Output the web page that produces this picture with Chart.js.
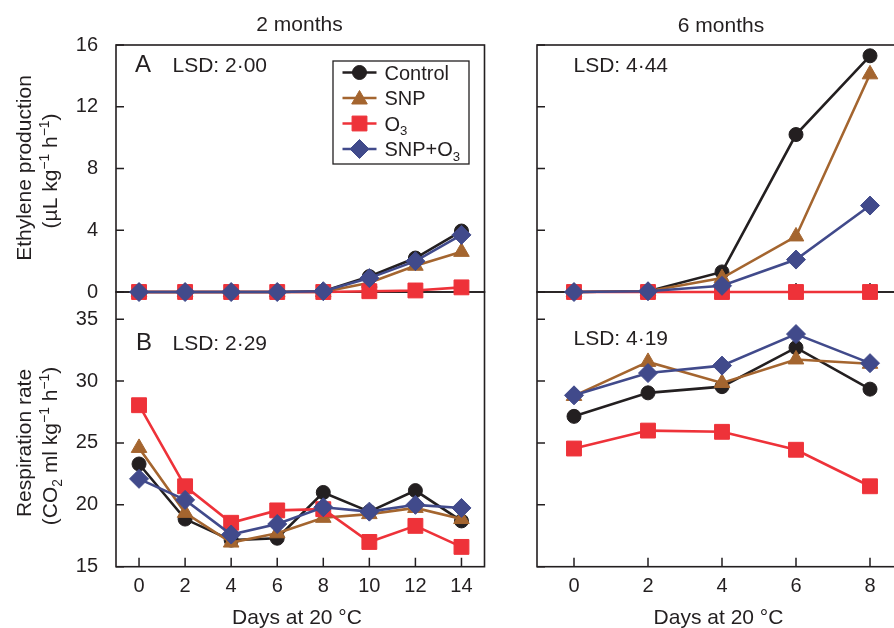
<!DOCTYPE html>
<html>
<head>
<meta charset="utf-8">
<script src="https://cdn.jsdelivr.net/npm/chart.js@4/dist/chart.umd.min.js"></script>
<style>
  html, body { margin: 0; padding: 0; background: #fff; width: 894px; height: 628px; overflow: hidden; }
  canvas { position: absolute; left: 0; top: 0; }
</style>
</head>
<body>
<canvas id="cB2" width="894" height="628"></canvas>
<canvas id="cB6" width="950" height="628"></canvas>
<canvas id="cA2" width="894" height="628"></canvas>
<canvas id="cA6" width="950" height="628"></canvas>
<script>
// ---------------- DATA ----------------
const seriesNames = ['Control', 'SNP', 'O3', 'SNP+O3'];
const days2 = [0, 2, 4, 6, 8, 10, 12, 14];
const days6 = [0, 2, 4, 6, 8];

const eth2Control = [0, 0, 0, 0, 0.05, 1.0, 2.2, 3.95];
const eth2SNP     = [0, 0, 0, 0, 0, 0.6, 1.7, 2.6];
const eth2O3      = [0, 0, 0, 0, 0, 0.05, 0.1, 0.3];
const eth2SNPO3   = [0, 0, 0, 0, 0.05, 0.9, 2.0, 3.7];

const eth6Control = [0, 0.05, 1.3, 10.2, 15.3];
const eth6SNP     = [0, 0.05, 0.9, 3.6, 14.1];
const eth6O3      = [0, 0, 0, 0, 0];
const eth6SNPO3   = [0, 0.05, 0.4, 2.1, 5.6];

const resp2Control = [23.3, 18.85, 17.15, 17.3, 21.0, 19.45, 21.15, 18.7];
const resp2SNP     = [24.6, 19.35, 16.95, 17.7, 18.95, 19.25, 19.75, 18.85];
const resp2O3      = [28.05, 21.5, 18.55, 19.55, 19.65, 17.0, 18.3, 16.6];
const resp2SNPO3   = [22.1, 20.4, 17.6, 18.45, 19.8, 19.45, 20.0, 19.75];

const resp6Control = [27.15, 29.05, 29.55, 32.7, 29.35];
const resp6SNP     = [28.8, 31.55, 29.85, 31.75, 31.4];
const resp6O3      = [24.55, 26.0, 25.9, 24.45, 21.5];
const resp6SNPO3   = [28.85, 30.65, 31.25, 33.8, 31.45];

const ethTicks = [0, 4, 8, 12, 16];
const respTicks = [15, 20, 25, 30, 35];
const dayTicks2 = [0, 2, 4, 6, 8, 10, 12, 14];
const dayTicks6 = [0, 2, 4, 6, 8];

const lsdA2 = 'LSD: 2·00', lsdA6 = 'LSD: 4·44', lsdB2 = 'LSD: 2·29', lsdB6 = 'LSD: 4·19';

// ---------------- STYLE ----------------
const FONT = '"Liberation Sans", Arial, Helvetica, sans-serif';
const INK = '#231f20';
const styles = [
  { color: '#231f20', point: 'circle',   radius: 7 },
  { color: '#a4652f', point: 'triangle', radius: 9 },
  { color: '#ee3239', point: 'rect',     radius: 10.5 },
  { color: '#414a8b', point: 'rectRot',  radius: 9.5 }
];

function makeDatasets(days, arrs) {
  return arrs.map((vals, i) => ({
    label: seriesNames[i],
    data: days.map((d, j) => ({ x: d, y: vals[j] })),
    borderColor: styles[i].color,
    backgroundColor: styles[i].color,
    pointBackgroundColor: styles[i].color,
    pointBorderColor: styles[i].color,
    pointBorderWidth: 1,
    pointStyle: styles[i].point,
    pointRadius: styles[i].radius,
    borderWidth: 2.6,
    tension: 0,
    clip: false,
    order: 4 - i
  }));
}

function drawRich(ctx, segs, x, y, size, align) {
  const parts = segs.map(s => {
    const fs = (s.sup || s.sub) ? size * 0.66 : size;
    ctx.font = fs + 'px ' + FONT;
    return { s, fs, w: ctx.measureText(s.t).width };
  });
  const total = parts.reduce((a, p) => a + p.w, 0);
  let cx = align === 'center' ? x - total / 2 : (align === 'right' ? x - total : x);
  ctx.textAlign = 'left';
  ctx.textBaseline = 'alphabetic';
  parts.forEach(p => {
    ctx.font = p.fs + 'px ' + FONT;
    const dy = p.s.sup ? -size * 0.40 : (p.s.sub ? size * 0.22 : 0);
    ctx.fillText(p.s.t, cx, y + dy);
    cx += p.w;
  });
}

function drawMarker(ctx, style, r, x, y, color) {
  ctx.save();
  ctx.fillStyle = color; ctx.strokeStyle = color; ctx.lineWidth = 1;
  ctx.beginPath();
  if (style === 'circle') {
    ctx.arc(x, y, r, 0, Math.PI * 2);
  } else if (style === 'triangle') {
    for (let k = 0; k < 3; k++) {
      const a = k * 2 * Math.PI / 3;
      const px = x + Math.sin(a) * r, py = y - Math.cos(a) * r;
      if (k === 0) ctx.moveTo(px, py); else ctx.lineTo(px, py);
    }
    ctx.closePath();
  } else if (style === 'rect') {
    const s = r * Math.SQRT1_2;
    ctx.rect(x - s, y - s, 2 * s, 2 * s);
  } else {
    ctx.moveTo(x - r, y); ctx.lineTo(x, y - r); ctx.lineTo(x + r, y); ctx.lineTo(x, y + r); ctx.closePath();
  }
  ctx.fill(); ctx.stroke();
  ctx.restore();
}

function makeChart(id, area, canvasW, days, arrs, yMin, yMax, yTicks, xMax, xTicks, showYLabels, showXLabels, texts) {
  const deco = {
    id: 'deco',
    beforeDatasetsDraw(chart) {
      const { ctx, chartArea: a } = chart;
      ctx.save();
      ctx.strokeStyle = INK;
      ctx.lineWidth = 1.6;
      ctx.strokeRect(a.left, a.top, a.right - a.left, a.bottom - a.top);
      ctx.lineWidth = 1.5;
      const ys = chart.scales.y, xs = chart.scales.x;
      ctx.beginPath();
      ys.ticks.forEach(t => {
        const py = ys.getPixelForValue(t.value);
        ctx.moveTo(a.left, py); ctx.lineTo(a.left + 8, py);
      });
      xs.ticks.forEach(t => {
        const px = xs.getPixelForValue(t.value);
        ctx.moveTo(px, a.bottom); ctx.lineTo(px, a.bottom - 9);
      });
      ctx.stroke();
      ctx.restore();
    },
    afterDatasetsDraw(chart) {
      const { ctx } = chart;
      ctx.save();
      ctx.fillStyle = INK;
      texts(ctx, chart);
      ctx.restore();
    }
  };
  const xH = 628 - area.bottom, yW = area.left;
  return new Chart(document.getElementById(id), {
    type: 'line',
    data: { datasets: makeDatasets(days, arrs) },
    options: {
      responsive: false,
      animation: false,
      devicePixelRatio: 1,
      events: [],
      layout: {
        autoPadding: false,
        padding: { left: 0, top: area.top, right: canvasW - area.right, bottom: 0 }
      },
      plugins: { legend: { display: false }, tooltip: { enabled: false }, title: { display: false } },
      scales: {
        x: {
          type: 'linear', position: 'bottom', min: -1, max: xMax,
          grid: { display: false, drawTicks: false },
          border: { display: false },
          afterBuildTicks: s => { s.ticks = xTicks.map(v => ({ value: v })); },
          afterFit: s => { s.height = xH; s.paddingLeft = 0; s.paddingRight = 0; s.paddingTop = 0; s.paddingBottom = 0; },
          ticks: { display: showXLabels, padding: 8, color: INK, font: { family: FONT, size: 20 }, maxRotation: 0, minRotation: 0, autoSkip: false }
        },
        y: {
          type: 'linear', position: 'left', min: yMin, max: yMax,
          grid: { display: false, drawTicks: false },
          border: { display: false },
          afterBuildTicks: s => { s.ticks = yTicks.map(v => ({ value: v })); },
          afterFit: s => { s.width = yW; s.paddingLeft = 0; s.paddingRight = 0; s.paddingTop = 0; s.paddingBottom = 0; },
          ticks: { display: showYLabels, padding: 18, color: INK, font: { family: FONT, size: 20 }, autoSkip: false }
        }
      }
    },
    plugins: [deco]
  });
}

const LEFT = { l: 116, r: 484.5 }, RIGHT = { l: 537, r: 907 };
const TOP_A = 45, MID = 292, BOT_B = 566.7;

function xTitle(ctx, x) { drawRich(ctx, [{ t: 'Days at 20 °C' }], x, 624, 21, 'center'); }

// Bottom panels first (drawn under top panels' overflowing markers)
makeChart('cB2', { left: LEFT.l, right: LEFT.r, top: MID, bottom: BOT_B }, 894, days2,
  [resp2Control, resp2SNP, resp2O3, resp2SNPO3], 15, 37.2, respTicks, 15, dayTicks2, true, true,
  (ctx) => {
    ctx.font = '24px ' + FONT; ctx.textAlign = 'left'; ctx.textBaseline = 'alphabetic';
    ctx.fillText('B', 136, 350);
    drawRich(ctx, [{ t: lsdB2 }], 172.5, 349.5, 21, 'left');
    xTitle(ctx, 297);
    ctx.save(); ctx.translate(31, 443); ctx.rotate(-Math.PI / 2);
    drawRich(ctx, [{ t: 'Respiration rate' }], 0, 0, 21, 'center');
    ctx.restore();
    ctx.save(); ctx.translate(57, 446); ctx.rotate(-Math.PI / 2);
    drawRich(ctx, [{ t: '(CO' }, { t: '2', sub: true }, { t: ' ml kg' }, { t: '−1', sup: true }, { t: ' h' }, { t: '−1', sup: true }, { t: ')' }], 0, 0, 21, 'center');
    ctx.restore();
  });

makeChart('cB6', { left: RIGHT.l, right: RIGHT.r, top: MID, bottom: BOT_B }, 950, days6,
  [resp6Control, resp6SNP, resp6O3, resp6SNPO3], 15, 37.2, respTicks, 9, dayTicks6, false, true,
  (ctx) => {
    drawRich(ctx, [{ t: lsdB6 }], 573.5, 345, 21, 'left');
    xTitle(ctx, 718.5);
  });

makeChart('cA2', { left: LEFT.l, right: LEFT.r, top: TOP_A, bottom: MID }, 894, days2,
  [eth2Control, eth2SNP, eth2O3, eth2SNPO3], 0, 16, ethTicks, 15, dayTicks2, true, false,
  (ctx) => {
    drawRich(ctx, [{ t: '2 months' }], 299.5, 31, 21, 'center');
    ctx.font = '24px ' + FONT; ctx.textAlign = 'left'; ctx.textBaseline = 'alphabetic';
    ctx.fillText('A', 135, 71.5);
    drawRich(ctx, [{ t: lsdA2 }], 172.5, 71.5, 21, 'left');
    ctx.save(); ctx.translate(31, 168); ctx.rotate(-Math.PI / 2);
    drawRich(ctx, [{ t: 'Ethylene production' }], 0, 0, 21, 'center');
    ctx.restore();
    ctx.save(); ctx.translate(57, 171); ctx.rotate(-Math.PI / 2);
    drawRich(ctx, [{ t: '(µL kg' }, { t: '−1', sup: true }, { t: ' h' }, { t: '−1', sup: true }, { t: ')' }], 0, 0, 21, 'center');
    ctx.restore();
    // legend
    ctx.save();
    ctx.fillStyle = '#fff';
    ctx.fillRect(333, 61, 136, 103);
    ctx.strokeStyle = INK; ctx.lineWidth = 1.3;
    ctx.strokeRect(333, 61, 136, 103);
    const ly = [72.5, 98, 123.5, 149];
    const labels = [
      [{ t: 'Control' }], [{ t: 'SNP' }], [{ t: 'O' }, { t: '3', sub: true }],
      [{ t: 'SNP+O' }, { t: '3', sub: true }]
    ];
    ly.forEach((y, i) => {
      ctx.strokeStyle = styles[i].color; ctx.lineWidth = 2.6;
      ctx.beginPath(); ctx.moveTo(342.5, y); ctx.lineTo(376.5, y); ctx.stroke();
      drawMarker(ctx, styles[i].point, styles[i].radius, 359.5, y + (styles[i].point === 'triangle' ? 1.5 : 0), styles[i].color);
      ctx.fillStyle = INK;
      drawRich(ctx, labels[i], 384.5, y + 7.2, 20, 'left');
    });
    ctx.restore();
  });

makeChart('cA6', { left: RIGHT.l, right: RIGHT.r, top: TOP_A, bottom: MID }, 950, days6,
  [eth6Control, eth6SNP, eth6O3, eth6SNPO3], 0, 16, ethTicks, 9, dayTicks6, false, false,
  (ctx) => {
    drawRich(ctx, [{ t: '6 months' }], 721, 31.5, 21, 'center');
    drawRich(ctx, [{ t: lsdA6 }], 573.5, 71.5, 21, 'left');
  });
</script>
</body>
</html>
